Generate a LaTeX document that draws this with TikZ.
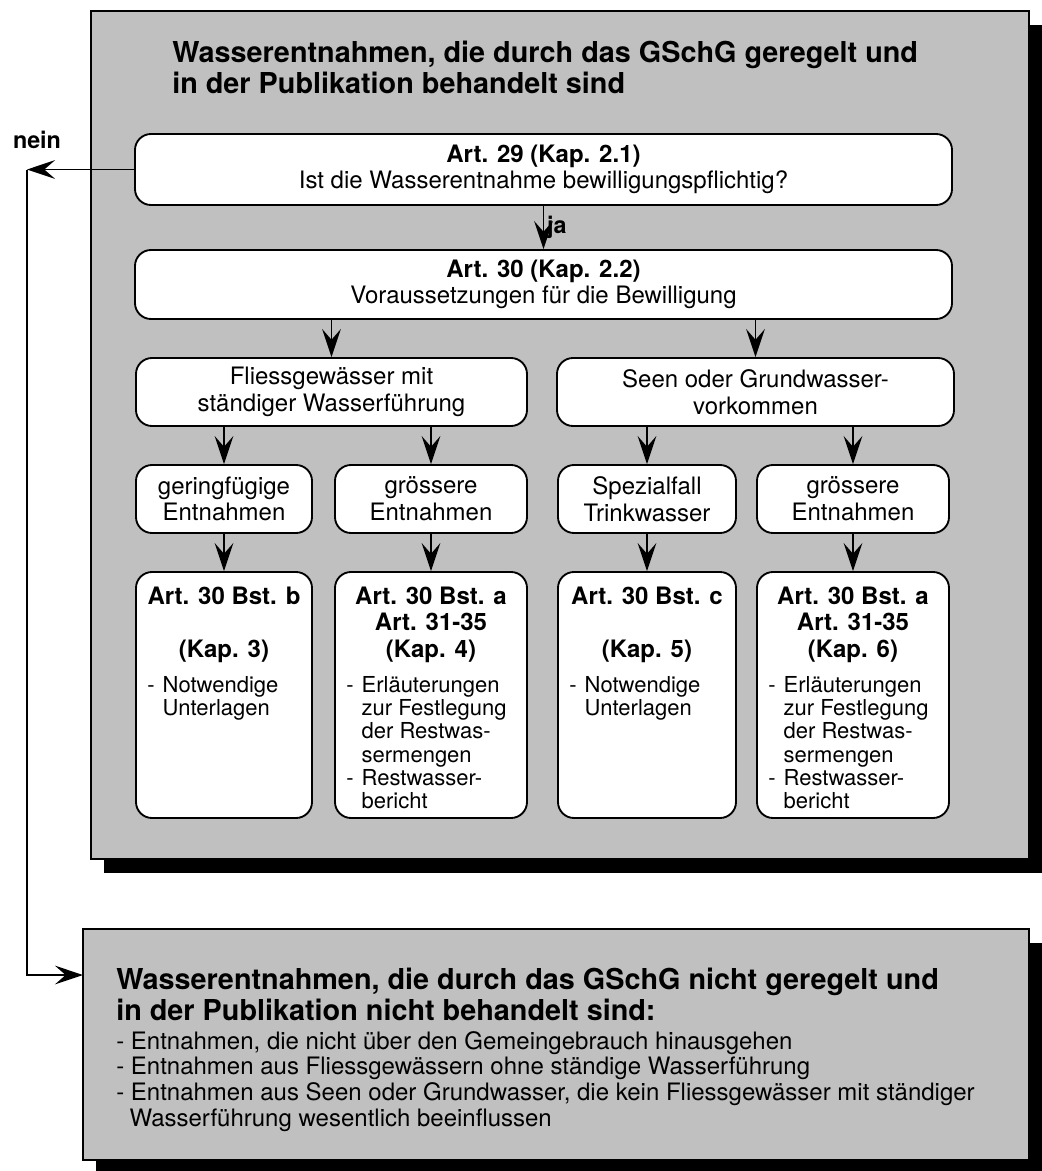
\documentclass[tikz,border=0pt]{standalone}
\usepackage{fontspec}
\setmainfont{TeX Gyre Heros}
\usepackage{tikz}
\usetikzlibrary{arrows.meta,positioning,fit}
\definecolor{grau}{RGB}{192,192,192}

\begin{document}
\begin{tikzpicture}[x=0.75pt,y=-0.75pt,
  feld/.style={draw,line width=1.4pt,fill=grau,inner sep=0pt},
  kasten/.style={draw,line width=1.4pt,fill=white,rounded corners=12pt,inner sep=0pt},
  inhalt/.style={inner sep=0pt,align=center,font=\fontsize{18}{20}\selectfont},
  pfeil/.style={line width=1.4pt,-{Stealth[length=21pt,width=14pt,inset=8pt]}},
  titel/.style={anchor=north west,inner sep=0pt,align=left,font=\fontsize{21.6}{23.3}\selectfont\bfseries},
  kopf/.style={inner sep=0pt,align=center,font=\fontsize{18}{20}\selectfont\bfseries},
  liste/.style={inner sep=0pt,font=\fontsize{16.5}{17.3}\selectfont},
  marke/.style={inner sep=2pt,font=\fontsize{17.5}{19.5}\selectfont\bfseries}]
\useasboundingbox (0,0) rectangle (1042,1171);

\fill[black] (104,25) rectangle (1042,873);
\node[feld, fit={(91,11) (1029,859)}] (P1) {};
\node[titel] (titelA) at (172,41) {Wasserentnahmen, die durch das GSchG geregelt und\\in der Publikation behandelt sind};

\node[kasten, fit={(135,134) (952,205)}] (A) {};
\node[kasten, fit={(135,250) (952,319)}] (C) {};
\node[kasten, fit={(136,358) (527,426)}] (D1) {};
\node[kasten, fit={(557,358) (954,426)}] (D2) {};
\node[kasten, fit={(136,465) (312,533)}] (E1) {};
\node[kasten, fit={(335,465) (527,533)}] (E2) {};
\node[kasten, fit={(558,465) (736,533)}] (E3) {};
\node[kasten, fit={(757,465) (949,533)}] (E4) {};
\node[kasten, fit={(136,572) (312,818)}] (F1) {};
\node[kasten, fit={(335,572) (527,818)}] (F2) {};
\node[kasten, fit={(558,572) (736,818)}] (F3) {};
\node[kasten, fit={(757,572) (949,818)}] (F4) {};

\node[inhalt] (tA) at (A) {\textbf{Art. 29 (Kap. 2.1)}\\Ist die Wasserentnahme bewilligungspflichtig?};
\node[inhalt] (tC) at (C) {\textbf{Art. 30 (Kap. 2.2)}\\Voraussetzungen für die Bewilligung};
\node[inhalt] (tD1) at (D1) {Fliessgewässer mit\\ständiger Wasserführung};
\node[inhalt] (tD2) at (D2) {Seen oder Grundwasser-\\vorkommen};
\node[inhalt] (tE1) at (E1) {geringfügige\\Entnahmen};
\node[inhalt] (tE2) at (E2) {grössere\\Entnahmen};
\node[inhalt] (tE3) at (E3) {Spezialfall\\Trinkwasser};
\node[inhalt] (tE4) at (E4) {grössere\\Entnahmen};

\node[kopf, below=11.5pt of F1.north] (k1) {Art. 30 Bst. b\\[20pt](Kap. 3)};
\node[kopf, below=11.5pt of F2.north] (k2) {Art. 30 Bst. a\\Art. 31-35\\(Kap. 4)};
\node[kopf, below=11.5pt of F3.north] (k3) {Art. 30 Bst. c\\[20pt](Kap. 5)};
\node[kopf, below=11.5pt of F4.north] (k4) {Art. 30 Bst. a\\Art. 31-35\\(Kap. 6)};
\node[liste, below right=79pt and 9pt of F1.north west] (l1) {\begin{tabular}{@{}l@{\hspace{6pt}}l@{}}-&Notwendige\\&Unterlagen\end{tabular}};
\node[liste, below right=79pt and 9pt of F2.north west] (l2) {\begin{tabular}{@{}l@{\hspace{6pt}}l@{}}-&Erläuterungen\\&zur Festlegung\\&der Restwas-\\&sermengen\\-&Restwasser-\\&bericht\end{tabular}};
\node[liste, below right=79pt and 9pt of F3.north west] (l3) {\begin{tabular}{@{}l@{\hspace{6pt}}l@{}}-&Notwendige\\&Unterlagen\end{tabular}};
\node[liste, below right=79pt and 9pt of F4.north west] (l4) {\begin{tabular}{@{}l@{\hspace{6pt}}l@{}}-&Erläuterungen\\&zur Festlegung\\&der Restwas-\\&sermengen\\-&Restwasser-\\&bericht\end{tabular}};

\draw[pfeil] (A) -- node[marke, right] (ja) {ja} (C);
\draw[pfeil] (C.south -| D1.north) -- (D1.north);
\draw[pfeil] (C.south -| D2.north) -- (D2.north);
\draw[pfeil] (D1.south -| E1.north) -- (E1.north);
\draw[pfeil] (D1.south -| E2.north) -- (E2.north);
\draw[pfeil] (D2.south -| E3.north) -- (E3.north);
\draw[pfeil] (D2.south -| E4.north) -- (E4.north);
\draw[pfeil] (E1) -- (F1);
\draw[pfeil] (E2) -- (F2);
\draw[pfeil] (E3) -- (F3);
\draw[pfeil] (E4) -- (F4);

\fill[black] (96,943) rectangle (1042,1171);
\node[feld, fit={(83,929) (1029,1160)}] (P2) {};
\node[titel] (titelB) at (116,968) {Wasserentnahmen, die durch das GSchG nicht geregelt und\\in der Publikation nicht behandelt sind:};
\node[anchor=north west, inner sep=0pt, align=left, font=\fontsize{18}{19.3}\selectfont] (listeB) at (116,1031) {- Entnahmen, die nicht über den Gemeingebrauch hinausgehen\\- Entnahmen aus Fliessgewässern ohne ständige Wasserführung\\- Entnahmen aus Seen oder Grundwasser, die kein Fliessgewässer mit ständiger\\\hspace*{10pt}Wasserführung wesentlich beeinflussen};

\node[marke] (nein) at (37,140) {nein};
\coordinate (knick) at (27,169.5);
\coordinate (einB) at (83,975);
\draw[pfeil] (A.west) -- (knick);
\draw[pfeil] (knick) |- (einB);
\end{tikzpicture}
\end{document}
